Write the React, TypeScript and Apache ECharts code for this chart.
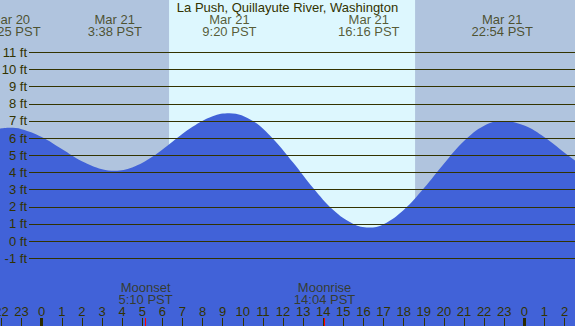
import React, { useEffect, useRef } from "react";
import * as echarts from "echarts";

const STATION = "La Push, Quillayute River, Washington";

// Tide curve: hours since Mar 21 00:00 PST, height in feet
const tideHours = [-2.1, -1.583, -1, 0, 1, 2, 3, 3.633, 4.5, 5.5, 6.5, 7.5, 8.5, 9.333, 10.5, 11.5, 12.5, 13.5, 14.5, 15.5, 16.267, 17, 18, 19, 20, 21, 22, 22.9, 24, 25, 26, 26.7];
const tideFeet = [6.55, 6.6, 6.52, 6.07, 5.37, 4.66, 4.19, 4.1, 4.29, 4.91, 5.79, 6.66, 7.28, 7.45, 7.0, 5.97, 4.58, 3.09, 1.81, 1.0, 0.8, 0.99, 1.82, 3.08, 4.51, 5.83, 6.72, 7.0, 6.73, 6.05, 5.15, 4.55];

// High / low tide events
const extremeHours = [-1.583, 3.633, 9.333, 16.267, 22.9];
const extremeDates = ["Mar 20", "Mar 21", "Mar 21", "Mar 21", "Mar 21"];
const extremeTimes = ["22:25 PST", "3:38 PST", "9:20 PST", "16:16 PST", "22:54 PST"];

// Moon events
const moonHours = [5.167, 14.067];
const moonEvents = ["Moonset", "Moonrise"];
const moonTimes = ["5:10 PST", "14:04 PST"];

const midnightHours = [0, 24];
const sunriseHour = 6.333;
const sunsetHour = 18.567;

const heightMin = -1;
const heightMax = 11;
const hourMin = -3;
const hourMax = 27;

// layout calibration
const W = 575;
const H = 326;
const PX_PER_HOUR = 20.11;
const X_HOUR0 = 41.7;
const PX_PER_FT = 17.167;
const Y_FT0 = 241.13;

const TXT = "#333300";
const FONT = "Liberation Sans, Arial, sans-serif";

export default function App() {
  const ref = useRef<HTMLDivElement>(null);
  useEffect(() => {
    if (!ref.current) return;
    const chart = echarts.init(ref.current, null, { renderer: "svg" });
    const pxToFt = (py: number) => (Y_FT0 - py) / PX_PER_FT;
    const gridLeft = X_HOUR0 + hourMin * PX_PER_HOUR;
    const gridRight = W - (X_HOUR0 + hourMax * PX_PER_HOUR);
    const yTop = pxToFt(0);
    const yBottom = pxToFt(H);
    const g1Top = Y_FT0 - heightMax * PX_PER_FT;
    const g1Bottom = H - (Y_FT0 - heightMin * PX_PER_FT);

    const tickData = [
      ...midnightHours.map((h) => [h, 0]),
      ...moonHours.map((h) => [h, 1]),
    ];

    chart.setOption({
      animation: false,
      backgroundColor: "#ddf7fe",
      textStyle: { fontFamily: FONT },
      title: {
        text: STATION,
        left: "center",
        top: 1,
        padding: 0,
        textStyle: { fontSize: 13, fontWeight: "normal", color: TXT, fontFamily: FONT },
      },
      grid: [
        { left: gridLeft, right: gridRight, top: 0, bottom: 0, outerBoundsMode: "none", containLabel: false },
        { left: 29, right: 0, top: g1Top, bottom: g1Bottom, outerBoundsMode: "none", containLabel: false },
      ],
      xAxis: [
        {
          type: "value",
          gridIndex: 0,
          min: hourMin,
          max: hourMax,
          interval: 1,
          position: "bottom",
          z: 4,
          axisLine: { show: false, onZero: false },
          splitLine: { show: false },
          axisTick: { show: true, inside: true, length: 8, lineStyle: { color: TXT, width: 1 } },
          axisLabel: {
            inside: true,
            margin: 8,
            fontSize: 13,
            color: TXT,
            fontFamily: FONT,
            formatter: (v: number) => String(((Math.round(v) % 24) + 24) % 24),
          },
        },
        { type: "value", gridIndex: 1, min: 0, max: 1, show: false },
      ],
      yAxis: [
        { type: "value", gridIndex: 0, min: yBottom, max: yTop, show: false },
        {
          type: "value",
          gridIndex: 1,
          min: heightMin,
          max: heightMax,
          interval: 1,
          z: 3,
          axisLine: { show: false },
          axisTick: { show: false },
          splitLine: { show: true, lineStyle: { color: TXT, width: 1 } },
          axisLabel: {
            margin: 2,
            fontSize: 13,
            color: TXT,
            fontFamily: FONT,
            formatter: "{value} ft",
          },
        },
      ],
      series: [
        {
          type: "line",
          xAxisIndex: 0,
          yAxisIndex: 0,
          z: 1,
          data: [[hourMin, 0]],
          symbol: "none",
          lineStyle: { width: 0 },
          silent: true,
          markArea: {
            silent: true,
            itemStyle: { color: "#b0c4de" },
            data: [
              [{ xAxis: hourMin }, { xAxis: sunriseHour }],
              [{ xAxis: sunsetHour }, { xAxis: hourMax }],
            ],
          },
        },
        {
          type: "line",
          xAxisIndex: 0,
          yAxisIndex: 0,
          z: 2,
          smooth: 0.4,
          symbol: "none",
          lineStyle: { width: 0 },
          areaStyle: { color: "#4162d8", opacity: 1, origin: "start" },
          data: tideHours.map((h, i) => [h, tideFeet[i]]),
        },
        {
          type: "custom",
          xAxisIndex: 0,
          yAxisIndex: 0,
          z: 5,
          data: tickData,
          renderItem: (params: any, api: any) => {
            const kind = api.value(1);
            const p = api.coord([api.value(0), yBottom]);
            const w = kind === 0 ? 3 : 1;
            return {
              type: "rect",
              shape: { x: Math.round(p[0] - w / 2), y: p[1] - 8, width: w, height: 8 },
              style: { fill: kind === 0 ? "#2a2a00" : "#ff0000" },
            };
          },
        },
        {
          type: "scatter",
          xAxisIndex: 0,
          yAxisIndex: 0,
          z: 6,
          symbolSize: 0,
          data: extremeHours.map((h) => [h, pxToFt(25.5)]),
          label: {
            show: true,
            position: "inside",
            fontSize: 13,
            lineHeight: 12,
            color: TXT,
            fontFamily: FONT,
            formatter: (p: any) => extremeDates[p.dataIndex] + "\n" + extremeTimes[p.dataIndex],
          },
        },
        {
          type: "scatter",
          xAxisIndex: 0,
          yAxisIndex: 0,
          z: 6,
          symbolSize: 0,
          data: moonHours.map((h) => [h, pxToFt(293.4)]),
          label: {
            show: true,
            position: "inside",
            fontSize: 13,
            lineHeight: 12,
            color: TXT,
            fontFamily: FONT,
            formatter: (p: any) => moonEvents[p.dataIndex] + "\n" + moonTimes[p.dataIndex],
          },
        },
      ],
    });
    return () => chart.dispose();
  }, []);
  return (
    <div
      ref={ref}
      style={{ position: "fixed", left: 0, top: 0, width: W, height: H }}
    />
  );
}
